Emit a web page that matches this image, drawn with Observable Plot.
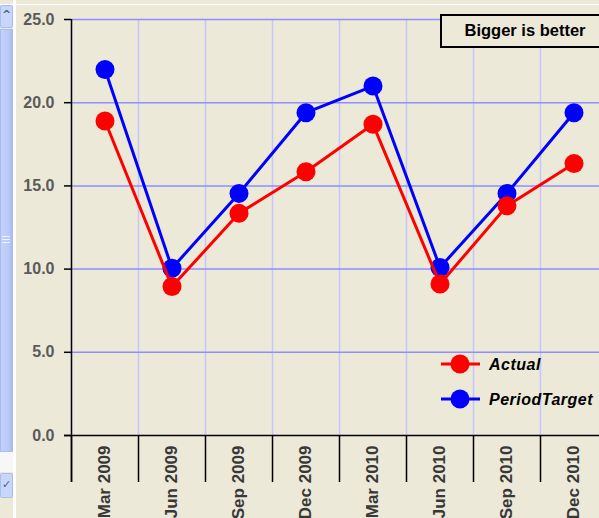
<!DOCTYPE html>
<html>
<head>
<meta charset="utf-8">
<script src="https://cdn.jsdelivr.net/npm/d3@7"></script>
<script src="https://cdn.jsdelivr.net/npm/@observablehq/plot@0.6"></script>
<style>
  html, body { margin: 0; padding: 0; background: #ECE9D8; overflow: hidden; width: 599px; height: 518px; }
  #wrap { position: relative; width: 599px; height: 518px; overflow: hidden; font-family: "Liberation Sans", Arial, sans-serif; }
  #chart { position: absolute; left: 0; top: 0; }
  .deco { position: absolute; box-sizing: border-box; }
</style>
</head>
<body>
<div id="wrap">
  <div id="chart"></div>
  <!-- window chrome on the left and top -->
  <div class="deco" style="left:0;top:4px;width:599px;height:1px;background:#fff;"></div>
  <div class="deco" style="left:13px;top:0;width:3px;height:518px;background:#fff;"></div>
  <div class="deco" style="left:0;top:5px;width:13px;height:23px;background:#c9d6fb;border:1px solid #a9bdf0;border-radius:2px;font:bold 11px 'DejaVu Sans';color:#4d6185;text-align:center;line-height:18px;">^</div>
  <div class="deco" style="left:0;top:29px;width:13px;height:423px;background:linear-gradient(90deg,#c2d0fb,#b9c9f8 70%,#a9bbee);border:1px solid #a9bdf0;"></div>
  <div class="deco" style="left:2px;top:236px;width:8px;height:1px;background:#eef3ff;"></div>
  <div class="deco" style="left:2px;top:239px;width:8px;height:1px;background:#eef3ff;"></div>
  <div class="deco" style="left:2px;top:242px;width:8px;height:1px;background:#eef3ff;"></div>
  <div class="deco" style="left:0;top:452px;width:13px;height:20px;background:#f7f7f5;"></div>
  <div class="deco" style="left:0;top:473px;width:13px;height:25px;background:#c9d6fb;border:1px solid #a9bdf0;border-radius:2px;font:bold 11px 'DejaVu Sans';color:#4d6185;text-align:center;line-height:22px;">&#x2713;</div>
  <!-- note box -->
  <div class="deco" style="left:440px;top:14px;width:170px;height:34px;border:2px solid #000;background:#ECE9D8;"></div>
  <div class="deco" style="left:440px;top:14px;width:170px;height:34px;"><div style="position:absolute;left:0;width:170px;top:7px;font:bold 16.5px 'Liberation Sans',Arial;text-align:center;color:#000;">Bigger is better</div></div>
  <!-- legend -->
  <svg class="deco" style="left:430px;top:345px;" width="169" height="75">
    <line x1="11" x2="50" y1="19" y2="19" stroke="#ff0000" stroke-width="3"/>
    <circle cx="30" cy="19" r="9.5" fill="#ff0000"/>
    <text x="59" y="25" font-family="Liberation Sans, Arial" font-size="16" font-weight="bold" font-style="italic" letter-spacing="0.5">Actual</text>
    <line x1="11" x2="50" y1="54" y2="54" stroke="#0000ff" stroke-width="3"/>
    <circle cx="30" cy="54" r="9.5" fill="#0000ff"/>
    <text x="59" y="60" font-family="Liberation Sans, Arial" font-size="16" font-weight="bold" font-style="italic" letter-spacing="0.5">PeriodTarget</text>
  </svg>
</div>
<script>
const periods = ["Mar 2009", "Jun 2009", "Sep 2009", "Dec 2009", "Mar 2010", "Jun 2010", "Sep 2010", "Dec 2010"];
const actual = [18.9, 8.95, 13.35, 15.85, 18.7, 9.1, 13.8, 16.35];
const periodTarget = [22.0, 10.05, 14.55, 19.4, 21.0, 10.1, 14.55, 19.4];
const yTicks = [0, 5, 10, 15, 20, 25];

const actualRows = periods.map((p, i) => ({period: p, value: actual[i]}));
const targetRows = periods.map((p, i) => ({period: p, value: periodTarget[i]}));

const W = 599, ML = 71, MR = -8;
const step = (W - MR - ML) / periods.length;

const chart = Plot.plot({
  width: W,
  height: 518,
  marginLeft: ML,
  marginRight: MR,
  marginTop: 19,
  marginBottom: 83,
  style: {background: "transparent", fontFamily: "Liberation Sans, Arial, sans-serif", overflow: "visible"},
  x: {type: "band", domain: periods, padding: 0, axis: null, label: null},
  y: {domain: [0, 25], axis: null, label: null},
  marks: [
    // vertical grid lines at band boundaries
    Plot.ruleX(periods, {x: d => d, dx: -step / 2, stroke: "#c6c6ff", strokeWidth: 1.5}),
    // horizontal grid lines
    Plot.ruleY(yTicks.filter(d => d > 0), {stroke: "#8e8eff", strokeWidth: 1.5}),
    // separators below the x axis
    Plot.ruleX(periods, {x: d => d, dx: -step / 2, insetTop: 416, insetBottom: -47, stroke: "#000", strokeWidth: 1.5}),
    // y axis line
    Plot.ruleX([periods[0]], {x: d => d, dx: -step / 2, insetBottom: -47, stroke: "#000", strokeWidth: 1.5}),
    // zero line
    Plot.ruleY([0], {stroke: "#000", strokeWidth: 1.5, insetLeft: -7}),
    Plot.axisY({ticks: yTicks, tickFormat: d => d.toFixed(1), tickSize: 7, tickPadding: 10, fontSize: 16, fontWeight: "bold", fill: "#5a5a5a", stroke: "#000", strokeWidth: 1.5, label: null}),
    Plot.axisX({tickSize: 0, tickPadding: 10, tickRotate: -90, fontSize: 17, fontWeight: "bold", fill: "#383838", label: null}),
    // series
    Plot.line(targetRows, {x: "period", y: "value", stroke: "#0000ff", strokeWidth: 3}),
    Plot.dot(targetRows, {x: "period", y: "value", r: 9.5, fill: "#0000ff", stroke: "none"}),
    Plot.line(actualRows, {x: "period", y: "value", stroke: "#ff0000", strokeWidth: 3}),
    Plot.dot(actualRows, {x: "period", y: "value", r: 9.5, fill: "#ff0000", stroke: "none"})
  ]
});
document.getElementById("chart").appendChild(chart);
</script>
</body>
</html>
